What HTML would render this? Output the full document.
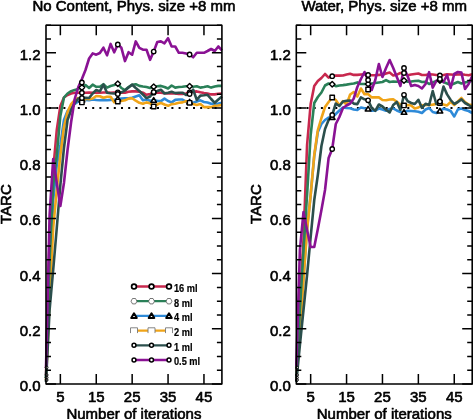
<!DOCTYPE html>
<html><head><meta charset="utf-8"><style>
html,body{margin:0;padding:0;background:#fff;}
body{width:473px;height:419px;overflow:hidden;font-family:"Liberation Sans", sans-serif;}
svg{display:block;will-change:transform;}
</style></head><body>
<svg width="473" height="419" viewBox="0 0 473 419" font-family='"Liberation Sans", sans-serif' font-size="15" fill="#000" stroke-linejoin="round">
<style>text{stroke:#000;stroke-width:0.6px;} text.lg{stroke-width:0.2px;}</style>
<rect width="473" height="419" fill="#fff"/>
<line x1="49" y1="108" x2="221.91" y2="108" stroke="#000" stroke-width="2" stroke-dasharray="2 5.2"/>
<polyline points="46,378 49.59,290 53.18,200 56.77,165 60.36,145 63.95,120 67.54,111 71.13,106.5 74.72,104 78.31,101.5 81.9,100 85.49,100 89.08,100.3 92.67,99.5 96.26,100 99.85,100.3 103.44,99.9 107.03,100.3 110.62,99.9 114.21,99.9 117.8,99 121.39,98.6 124.98,98.4 128.57,98.2 132.16,97.8 135.75,96.5 139.34,95.2 142.93,100.3 146.52,99.5 150.11,100.7 153.7,100.3 157.29,100.8 160.88,101.1 164.47,98.6 168.06,101 171.65,102.4 175.24,99.9 178.83,99.5 182.42,99.5 186.01,101.6 189.6,102 193.19,102.8 196.78,101.5 200.37,100.3 203.96,102 207.55,102.5 211.14,103.7 214.73,103.7 218.32,103.5 221.91,102.8" fill="none" stroke="#2e8ad8" stroke-width="2.6" stroke-linejoin="round"/>
<polyline points="46,380 49.59,300 53.18,228 56.77,190 60.36,155 63.95,127 67.54,112 71.13,104 74.72,100 78.31,98 81.9,102.4 85.49,98.8 89.08,99.2 92.67,98.5 96.26,96 99.85,96.3 103.44,97.8 107.03,96.8 110.62,96.8 114.21,102.3 117.8,101.6 121.39,101 124.98,100.3 128.57,98.6 132.16,98.2 135.75,100.7 139.34,102.8 142.93,103.7 146.52,102.4 150.11,103.3 153.7,106.5 157.29,104.5 160.88,102.8 164.47,104.5 168.06,105.8 171.65,104.1 175.24,103.7 178.83,102.8 182.42,102.4 186.01,101.1 189.6,102.8 193.19,104 196.78,104.9 200.37,104.1 203.96,107.1 207.55,107.1 211.14,107.1 214.73,105.8 218.32,105.5 221.91,104.9" fill="none" stroke="#f0a418" stroke-width="2.6" stroke-linejoin="round"/>
<polyline points="46,375 49.59,240 53.18,170 56.77,130 60.36,106 63.95,97.5 67.54,95 71.13,93.5 74.72,92.8 78.31,92.7 81.9,92.7 85.49,92.7 89.08,92.5 92.67,92.7 96.26,92.5 99.85,92.7 103.44,92.5 107.03,92.5 110.62,92.7 114.21,92.5 117.8,92.3 121.39,92.7 124.98,92.7 128.57,91.8 132.16,91.4 135.75,91.4 139.34,91.8 142.93,92.7 146.52,94.8 150.11,94 153.7,92.7 157.29,92.5 160.88,92.7 164.47,93.1 168.06,93.5 171.65,93.5 175.24,93.5 178.83,94 182.42,94 186.01,93.5 189.6,92.3 193.19,91.8 196.78,91.4 200.37,92.3 203.96,93.1 207.55,93.5 211.14,94.4 214.73,94.4 218.32,93.8 221.91,93.5" fill="none" stroke="#c8284e" stroke-width="2.6" stroke-linejoin="round"/>
<polyline points="46,378 49.59,260 53.18,185 56.77,155 60.36,116 63.95,97.5 67.54,93.5 71.13,91.2 74.72,89.9 78.31,88.9 81.9,87.6 85.49,85.1 89.08,88 92.67,84.7 96.26,86.8 99.85,86.8 103.44,84.2 107.03,87.6 110.62,86 114.21,85.1 117.8,83.8 121.39,88 124.98,90.1 128.57,87 132.16,84.7 135.75,84.2 139.34,85.9 142.93,86.5 146.52,87 150.11,88 153.7,86.8 157.29,86.3 160.88,85.9 164.47,87 168.06,88.5 171.65,85.5 175.24,87.6 178.83,87 182.42,86.8 186.01,86.3 189.6,86.3 193.19,86.8 196.78,86.3 200.37,87.6 203.96,87 207.55,86.3 211.14,87.6 214.73,86.5 218.32,85.9 221.91,85.9" fill="none" stroke="#2a8058" stroke-width="2.6" stroke-linejoin="round"/>
<polyline points="46,382 49.59,310 53.18,270 56.77,228 60.36,185 63.95,148 67.54,120 71.13,110 74.72,103 78.31,98.5 81.9,98 85.49,97.8 89.08,98 92.67,93.5 96.26,90 99.85,91.4 103.44,84.7 107.03,92.7 110.62,93.2 114.21,93.5 117.8,94 121.39,92.3 124.98,90.6 128.57,87.6 132.16,84.7 135.75,88 139.34,91 142.93,94.5 146.52,98.2 150.11,96.5 153.7,92 157.29,91 160.88,89.7 164.47,93.5 168.06,92.7 171.65,91.8 175.24,93.1 178.83,92.8 182.42,92.7 186.01,95 189.6,94 193.19,89.7 196.78,99.9 200.37,95.6 203.96,95.3 207.55,94.8 211.14,99 214.73,102.8 218.32,99.5 221.91,96.5" fill="none" stroke="#2b4f4c" stroke-width="2.6" stroke-linejoin="round"/>
<polyline points="46,368 49.59,215 53.18,159 56.77,183 60.36,206 63.95,183 67.54,150 71.13,122 74.72,99 78.31,87 81.9,79 85.49,70 89.08,58.5 92.67,53.4 96.26,54.7 99.85,53 103.44,47.7 107.03,55.3 110.62,43.9 114.21,52.3 117.8,44.5 121.39,47.8 124.98,61.1 128.57,52.2 132.16,54.7 135.75,41.4 139.34,47.8 142.93,49.7 146.52,49.7 150.11,59.8 153.7,51.6 157.29,42 160.88,41.4 164.47,43.3 168.06,38.2 171.65,46.5 175.24,46.5 178.83,52.8 182.42,52.8 186.01,53.5 189.6,54.5 193.19,57.3 196.78,52.8 200.37,52.8 203.96,52.8 207.55,51 211.14,49 214.73,51 218.32,46.5 221.91,50.3" fill="none" stroke="#8a1294" stroke-width="2.6" stroke-linejoin="round"/>
<polygon points="81.9,97.4 84.7,102 79.1,102" fill="#fff" stroke="#000" stroke-width="1.6" stroke-linejoin="round"/>
<polygon points="117.8,96.4 120.6,101 115,101" fill="#fff" stroke="#000" stroke-width="1.6" stroke-linejoin="round"/>
<polygon points="153.7,97.7 156.5,102.3 150.9,102.3" fill="#fff" stroke="#000" stroke-width="1.6" stroke-linejoin="round"/>
<polygon points="189.6,99.4 192.4,104 186.8,104" fill="#fff" stroke="#000" stroke-width="1.6" stroke-linejoin="round"/>
<rect x="79.7" y="100.2" width="4.4" height="4.4" fill="#fff" stroke="#000" stroke-width="1.4"/>
<rect x="115.6" y="99.4" width="4.4" height="4.4" fill="#fff" stroke="#000" stroke-width="1.4"/>
<rect x="151.5" y="104.3" width="4.4" height="4.4" fill="#fff" stroke="#000" stroke-width="1.4"/>
<rect x="187.4" y="100.6" width="4.4" height="4.4" fill="#fff" stroke="#000" stroke-width="1.4"/>
<circle cx="81.9" cy="92.7" r="2.2" fill="#fff" stroke="#000" stroke-width="1.4"/>
<circle cx="117.8" cy="92.3" r="2.2" fill="#fff" stroke="#000" stroke-width="1.4"/>
<circle cx="153.7" cy="92.7" r="2.2" fill="#fff" stroke="#000" stroke-width="1.4"/>
<circle cx="189.6" cy="92.3" r="2.2" fill="#fff" stroke="#000" stroke-width="1.4"/>
<polygon points="81.9,84.8 84.7,87.6 81.9,90.4 79.1,87.6" fill="#fff" stroke="#000" stroke-width="1.4"/>
<polygon points="117.8,81 120.6,83.8 117.8,86.6 115,83.8" fill="#fff" stroke="#000" stroke-width="1.4"/>
<polygon points="153.7,84 156.5,86.8 153.7,89.6 150.9,86.8" fill="#fff" stroke="#000" stroke-width="1.4"/>
<polygon points="189.6,83.5 192.4,86.3 189.6,89.1 186.8,86.3" fill="#fff" stroke="#000" stroke-width="1.4"/>
<circle cx="81.9" cy="98" r="2.2" fill="#fff" stroke="#000" stroke-width="1.4"/>
<circle cx="117.8" cy="94" r="2.2" fill="#fff" stroke="#000" stroke-width="1.4"/>
<circle cx="153.7" cy="92" r="2.2" fill="#fff" stroke="#000" stroke-width="1.4"/>
<circle cx="189.6" cy="94" r="2.2" fill="#fff" stroke="#000" stroke-width="1.4"/>
<circle cx="81.9" cy="82.4" r="2.2" fill="#fff" stroke="#000" stroke-width="1.4"/>
<circle cx="117.8" cy="44.5" r="2.2" fill="#fff" stroke="#000" stroke-width="1.4"/>
<circle cx="153.7" cy="51.6" r="2.2" fill="#fff" stroke="#000" stroke-width="1.4"/>
<circle cx="189.6" cy="54.5" r="2.2" fill="#fff" stroke="#000" stroke-width="1.4"/>
<circle cx="46.6" cy="367.5" r="1.4" fill="#fff" stroke="#000" stroke-width="1"/>
<circle cx="46.6" cy="375" r="1.4" fill="#fff" stroke="#000" stroke-width="1"/>
<circle cx="46.6" cy="377.6" r="1.4" fill="#fff" stroke="#000" stroke-width="1"/>
<circle cx="46.6" cy="380" r="1.4" fill="#fff" stroke="#000" stroke-width="1"/>
<rect x="46" y="25.2" width="175.91" height="358.8" fill="none" stroke="#000" stroke-width="1.6"/>
<path d="M60.36,384v-10M60.36,25.2v10M96.26,384v-10M96.26,25.2v10M132.16,384v-10M132.16,25.2v10M168.06,384v-10M168.06,25.2v10M203.96,384v-10M203.96,25.2v10M46,384h10M221.91,384h-10M46,370.2h5M221.91,370.2h-5M46,356.4h5M221.91,356.4h-5M46,342.6h5M221.91,342.6h-5M46,328.8h10M221.91,328.8h-10M46,315h5M221.91,315h-5M46,301.2h5M221.91,301.2h-5M46,287.4h5M221.91,287.4h-5M46,273.6h10M221.91,273.6h-10M46,259.8h5M221.91,259.8h-5M46,246h5M221.91,246h-5M46,232.2h5M221.91,232.2h-5M46,218.4h10M221.91,218.4h-10M46,204.6h5M221.91,204.6h-5M46,190.8h5M221.91,190.8h-5M46,177h5M221.91,177h-5M46,163.2h10M221.91,163.2h-10M46,149.4h5M221.91,149.4h-5M46,135.6h5M221.91,135.6h-5M46,121.8h5M221.91,121.8h-5M46,108h10M221.91,108h-10M46,94.2h5M221.91,94.2h-5M46,80.4h5M221.91,80.4h-5M46,66.6h5M221.91,66.6h-5M46,52.8h10M221.91,52.8h-10M46,39h5M221.91,39h-5M46,25.2h5M221.91,25.2h-5" stroke="#000" stroke-width="1.5" fill="none"/>
<text x="40.5" y="391" text-anchor="end">0.0</text>
<text x="40.5" y="335.8" text-anchor="end">0.2</text>
<text x="40.5" y="280.6" text-anchor="end">0.4</text>
<text x="40.5" y="225.4" text-anchor="end">0.6</text>
<text x="40.5" y="170.2" text-anchor="end">0.8</text>
<text x="40.5" y="115" text-anchor="end">1.0</text>
<text x="40.5" y="59.8" text-anchor="end">1.2</text>
<text x="60.36" y="401.5" text-anchor="middle">5</text>
<text x="96.26" y="401.5" text-anchor="middle">15</text>
<text x="132.16" y="401.5" text-anchor="middle">25</text>
<text x="168.06" y="401.5" text-anchor="middle">35</text>
<text x="203.96" y="401.5" text-anchor="middle">45</text>
<text x="133.95" y="418.6" text-anchor="middle">Number of iterations</text>
<text x="133.95" y="11.4" text-anchor="middle">No Content, Phys. size +8 mm</text>
<text transform="translate(11,204.1) rotate(-90)" text-anchor="middle">TARC</text>
<line x1="134" y1="286.5" x2="169" y2="286.5" stroke="#c8284e" stroke-width="2.3"/>
<circle cx="134" cy="286.5" r="2.4" fill="#fff" stroke="#000" stroke-width="1.7"/>
<circle cx="151.5" cy="286.5" r="2.4" fill="#fff" stroke="#000" stroke-width="1.7"/>
<circle cx="169" cy="286.5" r="2.4" fill="#fff" stroke="#000" stroke-width="1.7"/>
<text class="lg" x="174" y="292" font-size="11" font-weight="bold" transform="translate(174 0) scale(0.84 1) translate(-174 0)">16 ml</text>
<line x1="134" y1="301.2" x2="169" y2="301.2" stroke="#2a8058" stroke-width="2.3"/>
<polygon points="131,301.2 132.5,298.5 135.5,298.5 137,301.2 135.5,303.9 132.5,303.9" fill="#fff" stroke="#555" stroke-width="0.8"/>
<polygon points="148.5,301.2 150,298.5 153,298.5 154.5,301.2 153,303.9 150,303.9" fill="#fff" stroke="#555" stroke-width="0.8"/>
<polygon points="166,301.2 167.5,298.5 170.5,298.5 172,301.2 170.5,303.9 167.5,303.9" fill="#fff" stroke="#555" stroke-width="0.8"/>
<text class="lg" x="174" y="306.7" font-size="11" font-weight="bold" transform="translate(174 0) scale(0.84 1) translate(-174 0)">8 ml</text>
<line x1="134" y1="315.9" x2="169" y2="315.9" stroke="#2e8ad8" stroke-width="2.3"/>
<polygon points="134,313.3 136.8,317.9 131.2,317.9" fill="#fff" stroke="#000" stroke-width="2.0" stroke-linejoin="round"/>
<polygon points="151.5,313.3 154.3,317.9 148.7,317.9" fill="#fff" stroke="#000" stroke-width="2.0" stroke-linejoin="round"/>
<polygon points="169,313.3 171.8,317.9 166.2,317.9" fill="#fff" stroke="#000" stroke-width="2.0" stroke-linejoin="round"/>
<text class="lg" x="174" y="321.4" font-size="11" font-weight="bold" transform="translate(174 0) scale(0.84 1) translate(-174 0)">4 ml</text>
<line x1="134" y1="330.6" x2="169" y2="330.6" stroke="#f0a418" stroke-width="2.3"/>
<path d="M130.5,333.1 V327.8 H137.5 V333.1" fill="#fff" stroke="#777" stroke-width="0.9"/>
<path d="M148,333.1 V327.8 H155 V333.1" fill="#fff" stroke="#777" stroke-width="0.9"/>
<path d="M165.5,333.1 V327.8 H172.5 V333.1" fill="#fff" stroke="#777" stroke-width="0.9"/>
<text class="lg" x="174" y="336.1" font-size="11" font-weight="bold" transform="translate(174 0) scale(0.84 1) translate(-174 0)">2 ml</text>
<line x1="134" y1="345.3" x2="169" y2="345.3" stroke="#2b4f4c" stroke-width="2.3"/>
<circle cx="134" cy="345.3" r="1.95" fill="#fff" stroke="#000" stroke-width="1.5"/>
<circle cx="151.5" cy="345.3" r="1.95" fill="#fff" stroke="#000" stroke-width="1.5"/>
<circle cx="169" cy="345.3" r="1.95" fill="#fff" stroke="#000" stroke-width="1.5"/>
<text class="lg" x="174" y="350.8" font-size="11" font-weight="bold" transform="translate(174 0) scale(0.84 1) translate(-174 0)">1 ml</text>
<line x1="134" y1="360" x2="169" y2="360" stroke="#8a1294" stroke-width="2.3"/>
<circle cx="134" cy="360" r="1.95" fill="#fff" stroke="#000" stroke-width="1.5"/>
<circle cx="151.5" cy="360" r="1.95" fill="#fff" stroke="#000" stroke-width="1.5"/>
<circle cx="169" cy="360" r="1.95" fill="#fff" stroke="#000" stroke-width="1.5"/>
<text class="lg" x="174" y="365.5" font-size="11" font-weight="bold" transform="translate(174 0) scale(0.84 1) translate(-174 0)">0.5 ml</text>
<line x1="299.3" y1="108" x2="472.21000000000004" y2="108" stroke="#000" stroke-width="2" stroke-dasharray="2 5.2"/>
<polyline points="296.3,379 299.89,328 303.48,278 307.07,228 310.66,195 314.25,156 317.84,132 321.43,124 325.02,120 328.61,117.5 332.2,117.4 335.79,114 339.38,110.5 342.97,107.5 346.56,108 350.15,108.3 353.74,109.5 357.33,110 360.92,107.5 364.51,108.3 368.1,109 371.69,110.8 375.28,110.5 378.87,108.5 382.46,109.5 386.05,110.8 389.64,109 393.23,108.3 396.82,110.5 400.41,112 404,112.3 407.59,110.8 411.18,111 414.77,111.2 418.36,111.7 421.95,113 425.54,109.5 429.13,108 432.72,112 436.31,113 439.9,111 443.49,108.7 447.08,109.5 450.67,111 454.26,116.5 457.85,109.5 461.44,108.5 465.03,110 468.62,111 472.21,113" fill="none" stroke="#2e8ad8" stroke-width="2.6" stroke-linejoin="round"/>
<polyline points="296.3,380 299.89,330 303.48,280 307.07,230 310.66,195 314.25,155 317.84,130 321.43,118 325.02,107 328.61,102 332.2,97.5 335.79,100 339.38,105.5 342.97,101.2 346.56,104.5 350.15,94.5 353.74,92 357.33,96.5 360.92,88.5 364.51,94.3 368.1,94.1 371.69,97.4 375.28,97.4 378.87,97.4 382.46,100 386.05,100.3 389.64,99.5 393.23,99.2 396.82,101.7 400.41,105 404,105.4 407.59,105 411.18,105.5 414.77,108.5 418.36,107.5 421.95,105.4 425.54,105 429.13,105 432.72,104.6 436.31,104 439.9,103 443.49,104.5 447.08,105.4 450.67,101.8 454.26,105 457.85,101.5 461.44,98 465.03,102 468.62,104.5 472.21,105" fill="none" stroke="#f0a418" stroke-width="2.6" stroke-linejoin="round"/>
<polyline points="296.3,375 299.89,300 303.48,240 307.07,145 310.66,104 314.25,86 317.84,81 321.43,78 325.02,74 328.61,77.6 332.2,76.2 335.79,75.6 339.38,75.6 342.97,75.5 346.56,74.5 350.15,73.8 353.74,74.9 357.33,74.9 360.92,74.5 364.51,74.3 368.1,75 371.69,75.3 375.28,75.3 378.87,74.9 382.46,74.8 386.05,73.5 389.64,72.6 393.23,75.5 396.82,74.7 400.41,73 404,73 407.59,75.3 411.18,74.5 414.77,74 418.36,73.5 421.95,75 425.54,75 429.13,74.2 432.72,74.5 436.31,75 439.9,75.5 443.49,75 447.08,74.2 450.67,74.5 454.26,74.8 457.85,74.5 461.44,74.2 465.03,74.8 468.62,75.3 472.21,74.2" fill="none" stroke="#c8284e" stroke-width="2.6" stroke-linejoin="round"/>
<polyline points="296.3,378 299.89,310 303.48,250 307.07,195 310.66,135 314.25,103 317.84,97 321.43,92.5 325.02,85.5 328.61,83.5 332.2,84.3 335.79,86.2 339.38,85.5 342.97,85.1 346.56,84.6 350.15,84 353.74,83.5 357.33,82.4 360.92,84 364.51,84 368.1,84 371.69,83.5 375.28,83 378.87,82.5 382.46,82 386.05,80.1 389.64,82 393.23,81.5 396.82,81.8 400.41,81 404,80.5 407.59,81.8 411.18,81.5 414.77,81 418.36,80.7 421.95,82 425.54,81.7 429.13,84 432.72,82.5 436.31,81 439.9,80.5 443.49,82 447.08,83.5 450.67,85 454.26,83.5 457.85,82 461.44,83.5 465.03,82.5 468.62,81.5 472.21,81" fill="none" stroke="#2a8058" stroke-width="2.6" stroke-linejoin="round"/>
<polyline points="296.3,382 299.89,345 303.48,310 307.07,275 310.66,237 314.25,200 317.84,175 321.43,146 325.02,129 328.61,120 332.2,115 335.79,103.5 339.38,106 342.97,101.5 346.56,100.8 350.15,100.5 353.74,103.6 357.33,104.1 360.92,97.4 364.51,99.3 368.1,100.3 371.69,107.9 375.28,110.8 378.87,104.5 382.46,106.5 386.05,109.8 389.64,112.5 393.23,105 396.82,102 400.41,110 404,94.8 407.59,101.1 411.18,103 414.77,104 418.36,99.8 421.95,107.9 425.54,103.8 429.13,105 432.72,91 436.31,104 439.9,101.5 443.49,86.5 447.08,94.4 450.67,100 454.26,104 457.85,102 461.44,99.4 465.03,103 468.62,105 472.21,107.3" fill="none" stroke="#2b4f4c" stroke-width="2.6" stroke-linejoin="round"/>
<polyline points="296.3,366 299.89,250 303.48,212 307.07,230 310.66,247 314.25,247 317.84,229 321.43,210 325.02,190 328.61,158 332.2,149 335.79,124 339.38,117 342.97,108 346.56,105.5 350.15,103.5 353.74,98.5 357.33,87 360.92,79 364.51,72 368.1,80 371.69,90 375.28,80 378.87,64 382.46,77 386.05,68 389.64,60 393.23,68 396.82,77 400.41,86 404,68 407.59,76 411.18,86 414.77,85 418.36,86 421.95,88.5 425.54,84 429.13,72.2 432.72,87.6 436.31,81 439.9,79 443.49,82 447.08,75 450.67,88 454.26,74 457.85,72 461.44,72.6 465.03,89 468.62,84 472.21,76" fill="none" stroke="#8a1294" stroke-width="2.6" stroke-linejoin="round"/>
<polygon points="332.2,114.8 335,119.4 329.4,119.4" fill="#fff" stroke="#000" stroke-width="1.6" stroke-linejoin="round"/>
<polygon points="368.1,106.4 370.9,111 365.3,111" fill="#fff" stroke="#000" stroke-width="1.6" stroke-linejoin="round"/>
<polygon points="404,109.7 406.8,114.3 401.2,114.3" fill="#fff" stroke="#000" stroke-width="1.6" stroke-linejoin="round"/>
<polygon points="439.9,108.4 442.7,113 437.1,113" fill="#fff" stroke="#000" stroke-width="1.6" stroke-linejoin="round"/>
<rect x="330" y="95.3" width="4.4" height="4.4" fill="#fff" stroke="#000" stroke-width="1.4"/>
<rect x="365.9" y="87.3" width="4.4" height="4.4" fill="#fff" stroke="#000" stroke-width="1.4"/>
<rect x="401.8" y="103.2" width="4.4" height="4.4" fill="#fff" stroke="#000" stroke-width="1.4"/>
<rect x="437.7" y="100.8" width="4.4" height="4.4" fill="#fff" stroke="#000" stroke-width="1.4"/>
<circle cx="332.2" cy="76.2" r="2.2" fill="#fff" stroke="#000" stroke-width="1.4"/>
<circle cx="368.1" cy="75" r="2.2" fill="#fff" stroke="#000" stroke-width="1.4"/>
<circle cx="404" cy="73" r="2.2" fill="#fff" stroke="#000" stroke-width="1.4"/>
<circle cx="439.9" cy="75.5" r="2.2" fill="#fff" stroke="#000" stroke-width="1.4"/>
<polygon points="332.2,81.5 335,84.3 332.2,87.1 329.4,84.3" fill="#fff" stroke="#000" stroke-width="1.4"/>
<polygon points="368.1,81.2 370.9,84 368.1,86.8 365.3,84" fill="#fff" stroke="#000" stroke-width="1.4"/>
<polygon points="404,77.7 406.8,80.5 404,83.3 401.2,80.5" fill="#fff" stroke="#000" stroke-width="1.4"/>
<polygon points="439.9,77.7 442.7,80.5 439.9,83.3 437.1,80.5" fill="#fff" stroke="#000" stroke-width="1.4"/>
<circle cx="332.2" cy="115" r="2.2" fill="#fff" stroke="#000" stroke-width="1.4"/>
<circle cx="368.1" cy="100.3" r="2.2" fill="#fff" stroke="#000" stroke-width="1.4"/>
<circle cx="404" cy="94.8" r="2.2" fill="#fff" stroke="#000" stroke-width="1.4"/>
<circle cx="439.9" cy="101.5" r="2.2" fill="#fff" stroke="#000" stroke-width="1.4"/>
<circle cx="332.2" cy="149" r="2.2" fill="#fff" stroke="#000" stroke-width="1.4"/>
<circle cx="368.1" cy="80" r="2.2" fill="#fff" stroke="#000" stroke-width="1.4"/>
<circle cx="404" cy="68" r="2.2" fill="#fff" stroke="#000" stroke-width="1.4"/>
<circle cx="439.9" cy="79" r="2.2" fill="#fff" stroke="#000" stroke-width="1.4"/>
<circle cx="296.90000000000003" cy="367.5" r="1.4" fill="#fff" stroke="#000" stroke-width="1"/>
<circle cx="296.90000000000003" cy="375" r="1.4" fill="#fff" stroke="#000" stroke-width="1"/>
<circle cx="296.90000000000003" cy="377.6" r="1.4" fill="#fff" stroke="#000" stroke-width="1"/>
<circle cx="296.90000000000003" cy="380" r="1.4" fill="#fff" stroke="#000" stroke-width="1"/>
<rect x="296.3" y="25.2" width="175.91" height="358.8" fill="none" stroke="#000" stroke-width="1.6"/>
<path d="M310.66,384v-10M310.66,25.2v10M346.56,384v-10M346.56,25.2v10M382.46,384v-10M382.46,25.2v10M418.36,384v-10M418.36,25.2v10M454.26,384v-10M454.26,25.2v10M296.3,384h10M472.21,384h-10M296.3,370.2h5M472.21,370.2h-5M296.3,356.4h5M472.21,356.4h-5M296.3,342.6h5M472.21,342.6h-5M296.3,328.8h10M472.21,328.8h-10M296.3,315h5M472.21,315h-5M296.3,301.2h5M472.21,301.2h-5M296.3,287.4h5M472.21,287.4h-5M296.3,273.6h10M472.21,273.6h-10M296.3,259.8h5M472.21,259.8h-5M296.3,246h5M472.21,246h-5M296.3,232.2h5M472.21,232.2h-5M296.3,218.4h10M472.21,218.4h-10M296.3,204.6h5M472.21,204.6h-5M296.3,190.8h5M472.21,190.8h-5M296.3,177h5M472.21,177h-5M296.3,163.2h10M472.21,163.2h-10M296.3,149.4h5M472.21,149.4h-5M296.3,135.6h5M472.21,135.6h-5M296.3,121.8h5M472.21,121.8h-5M296.3,108h10M472.21,108h-10M296.3,94.2h5M472.21,94.2h-5M296.3,80.4h5M472.21,80.4h-5M296.3,66.6h5M472.21,66.6h-5M296.3,52.8h10M472.21,52.8h-10M296.3,39h5M472.21,39h-5M296.3,25.2h5M472.21,25.2h-5" stroke="#000" stroke-width="1.5" fill="none"/>
<text x="290.8" y="391" text-anchor="end">0.0</text>
<text x="290.8" y="335.8" text-anchor="end">0.2</text>
<text x="290.8" y="280.6" text-anchor="end">0.4</text>
<text x="290.8" y="225.4" text-anchor="end">0.6</text>
<text x="290.8" y="170.2" text-anchor="end">0.8</text>
<text x="290.8" y="115" text-anchor="end">1.0</text>
<text x="290.8" y="59.8" text-anchor="end">1.2</text>
<text x="310.66" y="401.5" text-anchor="middle">5</text>
<text x="346.56" y="401.5" text-anchor="middle">15</text>
<text x="382.46" y="401.5" text-anchor="middle">25</text>
<text x="418.36" y="401.5" text-anchor="middle">35</text>
<text x="454.26" y="401.5" text-anchor="middle">45</text>
<text x="384.25" y="418.6" text-anchor="middle">Number of iterations</text>
<text x="384.25" y="11.4" text-anchor="middle">Water, Phys. size +8 mm</text>
<text transform="translate(261.3,204.1) rotate(-90)" text-anchor="middle">TARC</text>
</svg>
</body></html>
